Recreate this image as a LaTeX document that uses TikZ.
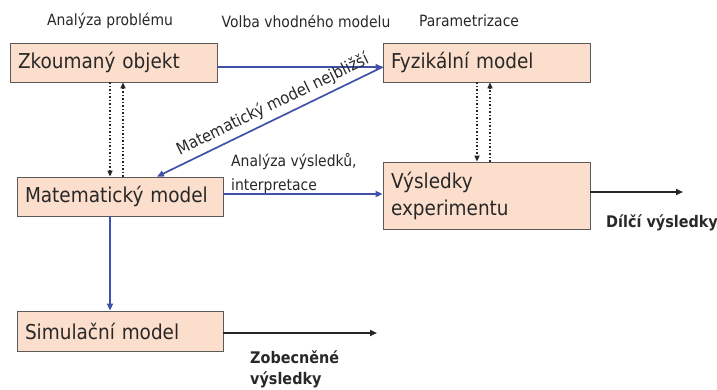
\documentclass[tikz,border=0pt]{standalone}
\usepackage{fontspec}
\setmainfont[FakeStretch=0.9]{DejaVu Sans}
\usetikzlibrary{arrows.meta,calc}
\definecolor{boxfill}{RGB}{251,222,203}
\definecolor{boxline}{RGB}{90,90,90}
\definecolor{flow}{RGB}{64,82,168}
\definecolor{txt}{RGB}{40,40,40}
\begin{document}
\begin{tikzpicture}[x=1pt,y=-1pt,
  stage/.style={draw=boxline,line width=0.8pt,fill=boxfill,text=txt,
    font=\fontsize{20.5}{27}\selectfont,inner xsep=8pt,inner ysep=0pt,
    align=left,anchor=center},
  caption/.style={text=txt,font=\fontsize{15.5}{19}\selectfont,inner sep=0pt},
  result/.style={text=txt,font=\bfseries\fontsize{16}{21}\selectfont,inner sep=0pt,align=left},
  blueflow/.style={draw=flow,line width=1.7pt,-{Triangle[length=7pt,width=6pt]}},
  outflow/.style={draw=black!85,line width=1.7pt,-{Triangle[length=7pt,width=6pt]}},
  link/.style={draw=black!85,line width=1.5pt,dash pattern=on 1.5pt off 2pt,
    -{Triangle[length=6pt,width=5pt]}}]
\useasboundingbox (0,0) rectangle (717,389);

% boxes
\node[stage,minimum width=207pt,minimum height=39pt,text width=191pt] (Z) at (113.5,62.5) {Zkoumaný objekt};
\node[stage,minimum width=207pt,minimum height=39pt,text width=191pt] (F) at (486.5,62.5) {Fyzikální model};
\node[stage,minimum width=206pt,minimum height=39pt,text width=190pt] (M) at (120,196.5) {Matematický model};
\node[stage,minimum width=207pt,minimum height=67pt,text width=191pt] (V) at (486.5,195.5) {Výsledky\\experimentu};
\node[stage,minimum width=206pt,minimum height=40pt,text width=190pt] (S) at (120,331) {Simulační model};

% step captions
\node[caption] (c1) at (110,21) {Analýza problému};
\node[caption] (c2) at (306,21) {Volba vhodného modelu};
\node[caption] (c3) at (469,21) {Parametrizace};
\node[caption,anchor=west,align=left,font=\fontsize{15.5}{24}\selectfont] (c4) at (231,174) {Analýza výsledků,\\interpretace};

% results
\node[result,anchor=north west] (r1) at (606,214) {Dílčí výsledky};
\node[result,anchor=north west] (r2) at (250,350) {Zobecněné\\výsledky};

% end points of the outgoing arrows
\coordinate (vend) at (683,192);
\coordinate (send) at (377,333);

% main flow
\draw[blueflow] ([yshift=-4.5pt]Z.east) -- ([yshift=-4.5pt]F.west) coordinate (ftip);
\draw[blueflow] (ftip) -- ([xshift=37pt]M.north)
  node[pos=0.46,sloped,above=5pt,caption,font=\fontsize{16.5}{20}\selectfont] (diag) {Matematický model nejbližší};
\draw[blueflow] ([yshift=2.5pt]M.east) -- ([yshift=2.5pt]M.east -| V.west);
\draw[blueflow] ([xshift=-10pt]M.south) -- ([xshift=-10pt]S.north);

% feedback links
\draw[link] ([xshift=-3.5pt]Z.south) -- ([xshift=-3.5pt]Z.south |- M.north);
\draw[link] ([xshift=9.5pt]Z.south |- M.north) -- ([xshift=9.5pt]Z.south);
\draw[link] ([xshift=-9.5pt]F.south) -- ([xshift=-9.5pt]F.south |- V.north);
\draw[link] ([xshift=3.5pt]F.south |- V.north) -- ([xshift=3.5pt]F.south);

% outputs
\draw[outflow] (V.east |- vend) -- (vend);
\draw[outflow] (S.east |- send) -- (send);
\end{tikzpicture}
\end{document}
